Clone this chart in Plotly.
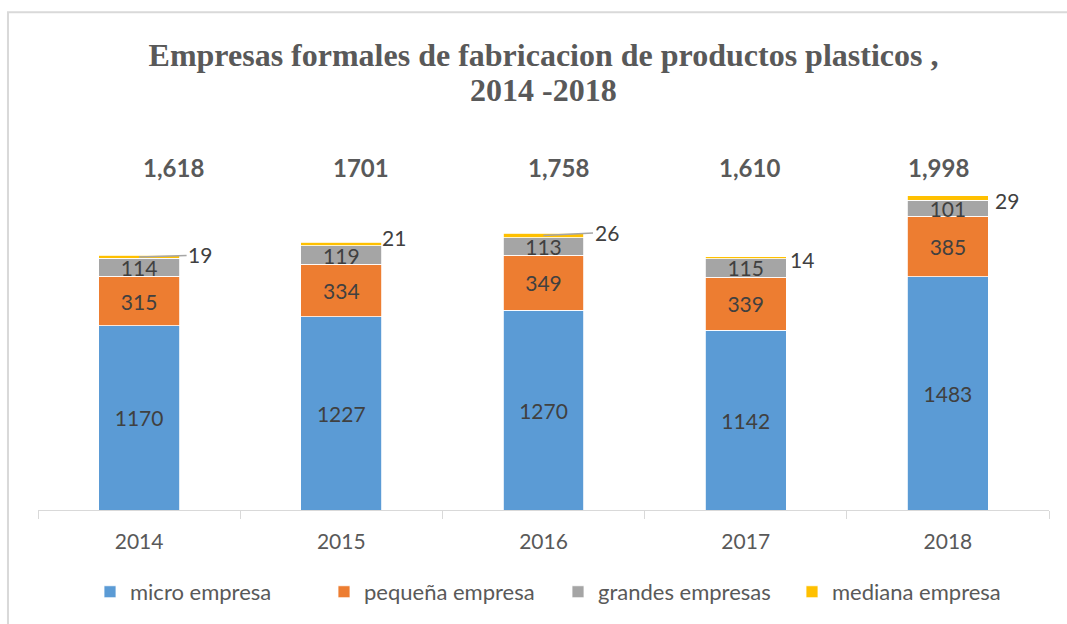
import plotly.graph_objects as go

years = ["2014", "2015", "2016", "2017", "2018"]
micro = [1170, 1227, 1270, 1142, 1483]
pequena = [315, 334, 349, 339, 385]
grandes = [114, 119, 113, 115, 101]
mediana = [19, 21, 26, 14, 29]
total_labels = ["1,618", "1701", "1,758", "1,610", "1,998"]
title_line1 = "Empresas formales de fabricacion de productos plasticos ,"
title_line2 = "2014 -2018"

series = [
    ("micro empresa", micro, "#5b9bd5"),
    ("pequeña empresa", pequena, "#ed7d31"),
    ("grandes empresas", grandes, "#a5a5a5"),
    ("mediana empresa", mediana, "#ffc000"),
]

FONT = "Lato, 'Open Sans', sans-serif"
SERIF = "'Liberation Serif', 'Times New Roman', serif"
LBL = 21
fig = go.Figure()
for name, vals, color in series:
    show_text = name != "mediana empresa"
    fig.add_trace(go.Bar(
        name=name, x=years, y=vals,
        marker=dict(color=color, line=dict(color="white", width=0.8)),
        text=[str(v) for v in vals] if show_text else None,
        textposition="inside" if show_text else "none",
        insidetextanchor="middle",
        constraintext="none",
        textangle=0,
        textfont=dict(color="#404040", size=LBL, family=FONT),
        width=0.4,
        hoverinfo="skip",
    ))

totals = [a + b + c + d for a, b, c, d in zip(micro, pequena, grandes, mediana)]

annotations = [dict(x=0.5, y=(511 - 90) / 391, xref="paper", yref="paper", text=f"<b>{title_line2}</b>",
                    showarrow=False, xanchor="center", yanchor="middle",
                    font=dict(family=SERIF, size=32, color="#595959"))]
total_shift = [34, 20, 15, 4, -9]
for i, lab in enumerate(total_labels):
    annotations.append(dict(x=i, y=0.877, xref="x", yref="paper", text=f"<b>{lab}</b>",
                            xshift=total_shift[i], yanchor="middle", xanchor="center",
                            showarrow=False, font=dict(size=24, color="#595959", family=FONT)))

# mediana labels (outside, some with leader lines)
offsets = [
    dict(arrow=True, ax=61, ay=-2),
    dict(arrow=False, xs=53, ys=5),
    dict(arrow=True, ax=63, ay=-3),
    dict(arrow=False, xs=56, ys=-3),
    dict(arrow=False, xs=59, ys=-5),
]
for i, (tot, m) in enumerate(zip(totals, mediana)):
    o = offsets[i]
    if o["arrow"]:
        annotations.append(dict(x=i, y=tot - m / 2, xref="x", yref="y", text=str(m),
                                showarrow=True, arrowhead=0, arrowwidth=1.5, arrowcolor="#a6a6a6",
                                ax=o["ax"], ay=o["ay"], axref="pixel", ayref="pixel",
                                font=dict(size=LBL, color="#404040", family=FONT)))
    else:
        annotations.append(dict(x=i, y=tot, xref="x", yref="y", text=str(m),
                                showarrow=False, xshift=o["xs"], yshift=o["ys"], yanchor="middle",
                                font=dict(size=LBL, color="#404040", family=FONT)))

fig.update_layout(
    width=1067, height=624,
    barmode="stack",
    paper_bgcolor="white", plot_bgcolor="white",
    margin=dict(l=38, r=18, t=120, b=113),
    title=dict(text=f"<b>{title_line1}</b>",
               x=0.5, xref="paper", xanchor="center", y=1 - 55 / 624, yanchor="middle",
               font=dict(family=SERIF, size=32, color="#595959")),
    xaxis=dict(type="category", range=[-0.5, 4.5], showline=True, linecolor="#d9d9d9", linewidth=1,
               ticks="outside", tickson="boundaries", ticklen=8, tickcolor="#d9d9d9", showgrid=False,
               tickfont=dict(size=21, color="#595959", family=FONT), ticklabelstandoff=13),
    yaxis=dict(visible=False, range=[0, 2479]),
    legend=dict(orientation="h", x=(90 - 38) / 1011, xanchor="left", y=-0.207, yanchor="middle",
                entrywidth=189, entrywidthmode="pixels",
                font=dict(size=22, color="#595959", family=FONT), traceorder="normal"),
    annotations=annotations,
    shapes=[dict(type="rect", xref="paper", yref="paper", x0=-0.0297, x1=1.03, y0=-0.35, y1=1.276,
                 line=dict(color="#d9d9d9", width=2))],
    font=dict(family=FONT),
)

fig.write_html("out.html", config={"displayModeBar": False},
               post_script="document.body.style.margin='0';document.body.style.overflow='hidden';")
